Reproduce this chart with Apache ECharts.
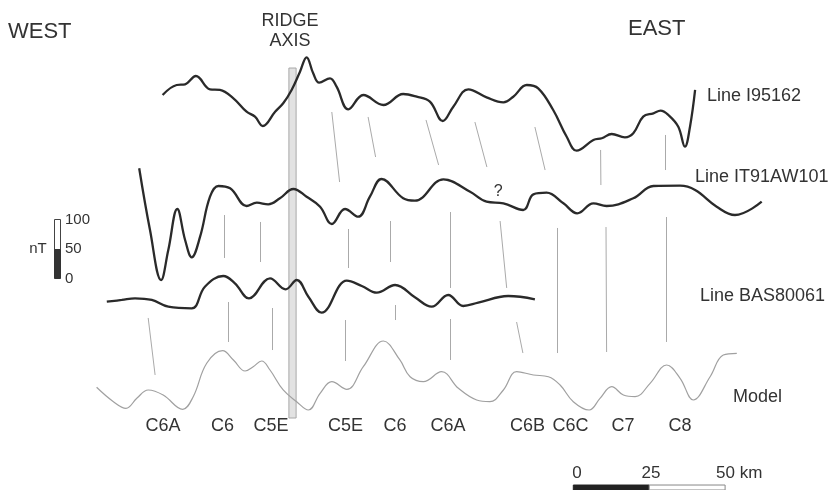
<!DOCTYPE html>
<html>
<head>
<meta charset="utf-8">
<script src="https://cdn.jsdelivr.net/npm/echarts@6/dist/echarts.min.js"></script>
<style>html,body{margin:0;padding:0;background:#fff;}#c{width:829px;height:490px;}</style>
</head>
<body>
<div id="c"></div>
<script>
// Distance along profile (km) and anomaly (nT) relative to each profile's baseline
const lineI95162 = [[54.2,58.3],[58.9,75],[61.7,76.2],[65.3,90],[70,67.8],[73.3,66.7],[77.8,52.8],[82.2,30.5],[85,22.2],[87.6,6.7],[91.7,30.5],[94.4,44.5],[97.2,66.7],[100,97.2],[102.2,121.2],[104.4,94.5],[106.4,78.8],[110,86.2],[112.2,72.2],[116.1,34.5],[121.1,58.3],[127.8,41.7],[134.4,60],[138.9,55.5],[143.3,47.2],[147.6,15],[151.1,38.8],[156.1,67.8],[162.2,54.5],[167.8,46.2],[171.1,55.5],[175.6,75],[179.4,69.5],[184.4,33.3],[188.9,-11.2],[192.2,-34.5],[197.8,-16.7],[200.6,-13.8],[203.9,-6.7],[208.3,-12.2],[211.1,-5.5],[214.4,22.2],[217.8,27.8],[220.2,32.2],[222.8,25],[226.1,5.5],[228.3,-27.8],[230,5.5],[231.7,66.7]];
const lineIT91AW101 = [[46.4,136.2],[50,33.3],[53.7,-50],[56.1,0],[59.1,68.3],[61.7,16.7],[63.9,-12.2],[66.7,22.2],[70,88.8],[72.8,106.7],[76.7,102.8],[82.2,73.3],[85.6,78.8],[89.4,76.2],[93.3,86.2],[97.8,101.7],[102.2,88.8],[106.7,72.2],[110.6,43.3],[115,68.3],[119.4,55.5],[123.3,88.8],[127.2,118.3],[134.4,86.2],[138.3,82.2],[147.8,117.8],[156.7,97.2],[162.2,80.5],[167.8,77.8],[174.4,66.7],[177.8,92.8],[182.2,95.5],[187.8,77.8],[192.4,61.2],[197.8,77.8],[202.2,73.3],[211.1,86.2],[217.8,106.7],[226.7,107.2],[231.7,100],[238.9,72.2],[245,58.3],[253.9,80.5]];
const lineBAS80061 = [[35.6,13.8],[40.6,16.7],[45,19.5],[50.6,16.7],[56.1,5.5],[63.9,2.8],[68.3,38.8],[74.4,56.7],[78.3,44.5],[83,19.5],[90,52.8],[95.2,34.5],[98.9,50],[102.8,22.2],[107.2,-4.5],[115.6,48.8],[120.6,40],[125.6,28.8],[131.7,41.7],[138.3,21.2],[143.9,5.5],[149.4,25],[154.4,6.7],[159.4,12.2],[169.4,23.3],[178.3,17.8]];
const lineModel = [[32.2,21.2],[37.8,-2.8],[42,-13.8],[45.6,2.8],[49.4,16.7],[54.4,8.3],[60.9,-15.5],[64.4,5.5],[68.9,61.2],[74.2,82.2],[77.8,66.7],[81.7,48.3],[84.4,55.5],[87.2,65],[90,50],[94.4,16.7],[98.9,-2.8],[102.8,-16.7],[106.7,11.2],[110.6,30.5],[115.6,17.8],[121.1,55.5],[127.8,98.3],[133.3,66.7],[136.7,38.8],[141.1,30.5],[147.2,47.2],[152.8,19.5],[158.9,0],[163.3,-2.8],[167.8,16.7],[172.2,47.2],[177.8,41.7],[182.8,38.8],[186.7,25],[191.1,-2.8],[196.4,-16.7],[200,2.8],[203.9,22.2],[207.8,8.3],[211.7,5.5],[216.7,27.8],[222.2,58.3],[226.7,36.2],[231.1,0],[236.7,38.8],[241.1,75],[245.6,77.8]];
const profileNames = ['Line I95162','Line IT91AW101','Line BAS80061','Model'];
const profileOffsets = [600, 400, 300, 150];
// Correlation lines [x1, y1, x2, y2] in km / stacked nT
const correlations = [[110.6,630,113.2,513.3],[122.7,621.7,125.2,555],[142,616.7,146.2,541.7],[158.3,613.3,162.3,538.3],[178.3,605,181.7,533.3],[200.2,566.7,200.3,508.3],[221.7,591.7,221.7,533.3],
[74.7,458.3,74.7,386.7],[86.9,446.7,86.9,380],[116.1,435,116.1,370],[130.2,448.3,130.2,380],[150.2,463.3,150.2,336.7],[166.7,448.3,168.9,336.7],[185.6,436.7,185.6,228.3],[202,438.3,202.2,230],[222.2,455,222.2,246.7],
[49.4,286.7,51.7,191.7],[76.2,313.3,76.2,246.7],[90.6,303.3,90.6,233.3],[115.2,283.3,115.2,215],[131.8,308.3,131.8,283.3],[150,285,150,216.7],[172.2,280,174.3,228.3]];
const chronNames = ['C6A','C6','C5E','C5E','C6','C6A','C6B','C6C','C7','C8'];
const chronKm = [54.3,74.2,90.3,115.2,131.7,149.3,175.8,190.2,207.7,226.7];
const ridgeAxisKm = [96.3, 98.7];
const scaleBarKm = [191.1, 216.4, 241.7];

const FONT = '"Liberation Sans", Arial, Helvetica, sans-serif';
const TXT = '#333';
const chart = echarts.init(document.getElementById('c'), null, {renderer:'canvas'});
const profiles = [lineI95162, lineIT91AW101, lineBAS80061, lineModel];
const series = profiles.map((d, i) => ({
  type:'line', name: profileNames[i], showSymbol:false, smooth:0.4, z: 5,
  data: d.map(p => [p[0], p[1] + profileOffsets[i]]),
  lineStyle: i < 3 ? {color:'#2a2a2a', width:2.3} : {color:'#a0a0a0', width:1.2},
  silent:true
}));
series.push({
  type:'lines', coordinateSystem:'cartesian2d', z: 2, silent:true,
  lineStyle:{color:'#aaaaaa', width:1, opacity:1},
  data: correlations.map(c => ({coords:[[c[0],c[1]],[c[2],c[3]]]}))
});
series.push({
  type:'scatter', symbolSize:0, silent:true, itemStyle:{opacity:1},
  data: chronKm.map((k,i)=>({value:[k,106.7], label:{show:true, formatter:chronNames[i], position:'inside', color:TXT, fontSize:18, fontFamily:FONT}}))
});
series.push({
  type:'scatter', symbolSize:0, silent:true, itemStyle:{opacity:1},
  data:[{value:[166.1,497.2], label:{show:true, formatter:'?', position:'inside', color:TXT, fontSize:16, fontFamily:FONT}}],
  markArea:{silent:true, data:[
    [{coord:[ridgeAxisKm[0],120], itemStyle:{color:'#e2e2e2', borderColor:'#a8a8a8', borderWidth:1, opacity:1}},{coord:[ridgeAxisKm[1],703.3]}],
    [{coord:[scaleBarKm[0],0], itemStyle:{color:'#222', borderColor:'#222', borderWidth:1, opacity:1}},{coord:[scaleBarKm[1],8.3]}],
    [{coord:[scaleBarKm[1],0], itemStyle:{color:'#fff', borderColor:'#888', borderWidth:1, opacity:1}},{coord:[scaleBarKm[2],8.3]}]
  ]}
});

function txt(t, x, y, size, align){
  return {type:'text', silent:true, style:{text:t, x:x, y:y, fill:TXT, font: size+'px '+FONT, textAlign:align||'left', textVerticalAlign:'middle'}};
}
const graphics = [
  txt('WEST', 8, 32, 22),
  txt('RIDGE', 290, 21, 18, 'center'),
  txt('AXIS', 290, 41, 18, 'center'),
  txt('EAST', 628, 29, 22),
  txt('Line I95162', 707, 96, 18),
  txt('Line IT91AW101', 695, 177, 18),
  txt('Line BAS80061', 700, 296, 18),
  txt('Model', 733, 397, 18),
  txt('nT', 38, 249, 15, 'center'),
  txt('100', 65, 220, 15),
  txt('50', 65, 249, 15),
  txt('0', 65, 279, 15),
  txt('0', 577, 473, 17, 'center'),
  txt('25', 651, 473, 17, 'center'),
  txt('50 km', 716, 473, 17),
  {type:'rect', silent:true, shape:{x:54.5, y:219.5, width:6, height:30}, style:{fill:'#fff', stroke:'#444', lineWidth:1}},
  {type:'rect', silent:true, shape:{x:54.5, y:249.5, width:6, height:29}, style:{fill:'#333', stroke:'#333', lineWidth:1}}
];

chart.setOption({
  animation:false,
  backgroundColor:'#ffffff',
  grid:{left:0, right:0, top:0, bottom:0},
  xAxis:{type:'value', min:0, max:829/3, show:false},
  yAxis:{type:'value', min:0, max:490/0.6, show:false},
  series: series,
  graphic: graphics
});
</script>
</body>
</html>
